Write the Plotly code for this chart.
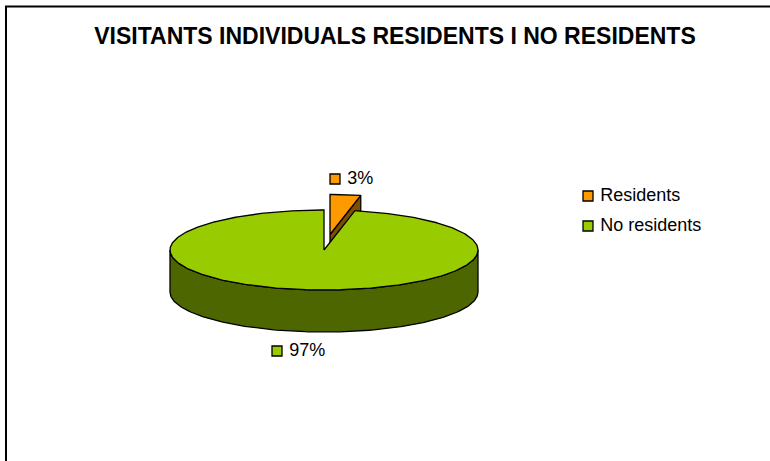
import math
import plotly.graph_objects as go

categories = ["Residents", "No residents"]
shares = [3.2, 96.8]
top_colors = ["#FF9900", "#99CC00"]
side_colors = ["#804D00", "#4D6600"]
title_text = "VISITANTS INDIVIDUALS RESIDENTS I NO RESIDENTS"

W, H = 770, 461
CX, CY, RX, RY, DEPTH = 324, 250, 154, 40, 42
EXPLODE_X, EXPLODE_Y = 6, -15.5
FONT = "Liberation Sans"


def pt(deg, dx=0, dy=0, drop=0):
    a = math.radians(deg)
    return (CX + dx + RX * math.sin(a), CY + dy + drop - RY * math.cos(a))


def arc(a0, a1, dx=0, dy=0, drop=0, step=1.0):
    n = max(2, int(abs(a1 - a0) / step) + 1)
    return [pt(a0 + (a1 - a0) * i / (n - 1), dx, dy, drop) for i in range(n)]


def poly(points, fill):
    xs = [p[0] for p in points] + [points[0][0]]
    ys = [p[1] for p in points] + [points[0][1]]
    return go.Scatter(x=xs, y=ys, mode="lines", fill="toself", fillcolor=fill,
                      line=dict(color="black", width=1.3), hoverinfo="skip",
                      showlegend=False)


def keyed_label(x, y, text, color, name=None):
    return go.Scatter(
        x=[x], y=[y], mode="markers+text", text=["\u00a0" + text], name=name,
        textposition="middle right", textfont=dict(family=FONT, size=18, color="black"),
        marker=dict(symbol="square", size=10, color=color, line=dict(color="black", width=1.3)),
        hoverinfo="skip", showlegend=False, cliponaxis=False)


fig = go.Figure()
angle = 360 * shares[0] / sum(shares)

apex = (CX + EXPLODE_X, CY + EXPLODE_Y)
rim = pt(angle, EXPLODE_X, EXPLODE_Y)
fig.add_trace(poly([apex, rim, (rim[0], rim[1] + DEPTH), (apex[0], apex[1] + DEPTH)], side_colors[0]))

front_top = arc(90, 270)
front_bot = arc(270, 90, drop=DEPTH)
fig.add_trace(poly(front_top + front_bot, side_colors[1]))

fig.add_trace(poly([(CX, CY)] + arc(angle, 360), top_colors[1]))
fig.add_trace(poly([apex] + arc(0, angle, EXPLODE_X, EXPLODE_Y), top_colors[0]))

label_pos = [(335, 179), (277, 351)]
for share, col, (lx, ly) in zip(shares, top_colors, label_pos):
    fig.add_trace(keyed_label(lx, ly, f"{round(share)}%", col))

legend_pos = [(588, 196), (588, 226)]
for cat, col, (lx, ly) in zip(categories, top_colors, legend_pos):
    fig.add_trace(keyed_label(lx, ly, cat, col, name=cat))

fig.update_layout(
    width=W, height=H, autosize=False,
    margin=dict(l=0, r=0, t=0, b=0),
    paper_bgcolor="white", plot_bgcolor="white",
    showlegend=False,
    xaxis=dict(range=[0, W], visible=False, fixedrange=True),
    yaxis=dict(range=[H, 0], visible=False, fixedrange=True),
    title=dict(text=f"<b>{title_text}</b>", x=395 / W, xanchor="center", y=1 - 36 / H, yanchor="middle",
               font=dict(family=FONT, size=23, color="black")),
    shapes=[dict(type="rect", xref="x", yref="y", x0=6, y0=6.5, x1=W + 5, y1=H + 5,
                 line=dict(color="black", width=2), layer="below")],
)
fig.write_html("out.html", config={"displayModeBar": False},
               post_script="document.body.style.margin='0';document.body.style.overflow='hidden';")
